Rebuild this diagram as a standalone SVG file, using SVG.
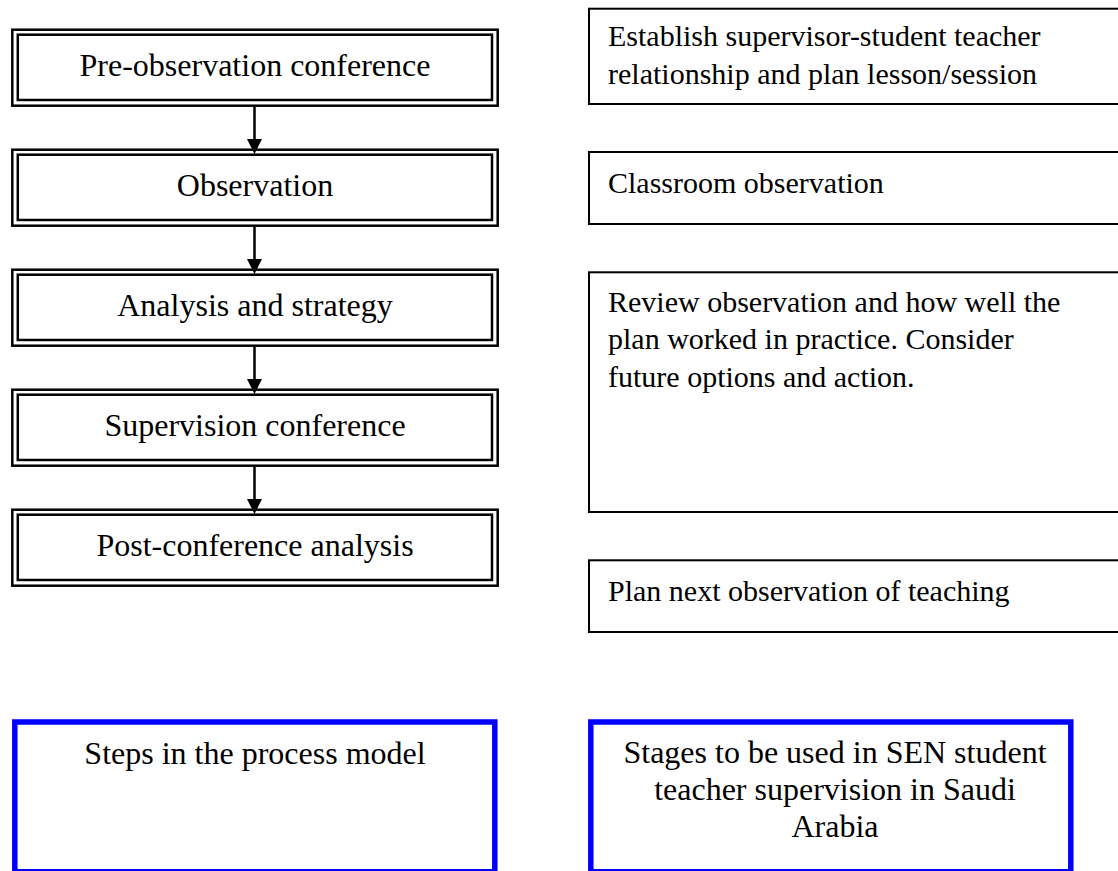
<svg xmlns="http://www.w3.org/2000/svg" width="1118" height="871" viewBox="0 0 1118 871">
<style>
.o{fill:none;stroke:#000;stroke-width:2.5}
.i{fill:none;stroke:#000;stroke-width:2.5}
.r{fill:none;stroke:#000;stroke-width:2}
.b{fill:none;stroke:#0000ff;stroke-width:5.5}
.tl{font-family:"Liberation Serif","Times New Roman",serif;font-size:32px;fill:#000;text-anchor:middle}
.tr{font-family:"Liberation Serif","Times New Roman",serif;font-size:30px;fill:#000}
.c{stroke:#000;stroke-width:2.5;fill:none}
</style>
<defs>
<marker id="ah" markerUnits="userSpaceOnUse" markerWidth="15" markerHeight="15" refX="7" refY="7.5" orient="auto" viewBox="0 0 15 15">
<path d="M0,0 L15,7.5 L0,15 z" fill="#000"/>
</marker>
</defs>
<rect width="1118" height="871" fill="#fff"/>
<g id="step1"><rect class="o" x="12.3" y="29.7" width="485.4" height="76"/><rect class="i" x="17.8" y="34.7" width="474.2" height="65.3"/><text class="tl" x="255" y="76">Pre-observation conference</text></g>
<g id="step2"><rect class="o" x="12.3" y="149.7" width="485.4" height="76"/><rect class="i" x="17.8" y="154.7" width="474.2" height="65.3"/><text class="tl" x="255" y="196">Observation</text></g>
<g id="step3"><rect class="o" x="12.3" y="269.7" width="485.4" height="76"/><rect class="i" x="17.8" y="274.7" width="474.2" height="65.3"/><text class="tl" x="255" y="316">Analysis and strategy</text></g>
<g id="step4"><rect class="o" x="12.3" y="389.7" width="485.4" height="76"/><rect class="i" x="17.8" y="394.7" width="474.2" height="65.3"/><text class="tl" x="255" y="436">Supervision conference</text></g>
<g id="step5"><rect class="o" x="12.3" y="509.7" width="485.4" height="76"/><rect class="i" x="17.8" y="514.7" width="474.2" height="65.3"/><text class="tl" x="255" y="556">Post-conference analysis</text></g>
<g id="connectors">
<line class="c" x1="254.5" y1="107" x2="254.5" y2="146" marker-end="url(#ah)"/>
<line class="c" x1="254.5" y1="227" x2="254.5" y2="266" marker-end="url(#ah)"/>
<line class="c" x1="254.5" y1="347" x2="254.5" y2="386" marker-end="url(#ah)"/>
<line class="c" x1="254.5" y1="467" x2="254.5" y2="506" marker-end="url(#ah)"/>
</g>
<g id="stage1"><rect class="r" x="589" y="8.7" width="530" height="95.3"/><text class="tr" x="608" y="45.5">Establish supervisor-student teacher</text><text class="tr" x="608" y="84">relationship and plan lesson/session</text></g>
<g id="stage2"><rect class="r" x="589" y="152" width="530" height="72"/><text class="tr" x="608" y="192.5">Classroom observation</text></g>
<g id="stage3"><rect class="r" x="589" y="272.3" width="530" height="239.7"/><text class="tr" x="608" y="311.5">Review observation and how well the</text><text class="tr" x="608" y="349">plan worked in practice. Consider</text><text class="tr" x="608" y="386.5">future options and action.</text></g>
<g id="stage4"><rect class="r" x="589" y="560.3" width="530" height="71.7"/><text class="tr" x="608" y="600.5">Plan next observation of teaching</text></g>
<g id="legend-left"><rect class="b" x="14.8" y="722" width="480" height="149.75"/><text class="tl" x="255" y="764">Steps in the process model</text></g>
<g id="legend-right"><rect class="b" x="590.8" y="722" width="480" height="149.75"/><text class="tl" x="835" y="763">Stages to be used in SEN student</text><text class="tl" x="835" y="800">teacher supervision in Saudi</text><text class="tl" x="835" y="837">Arabia</text></g>
</svg>
